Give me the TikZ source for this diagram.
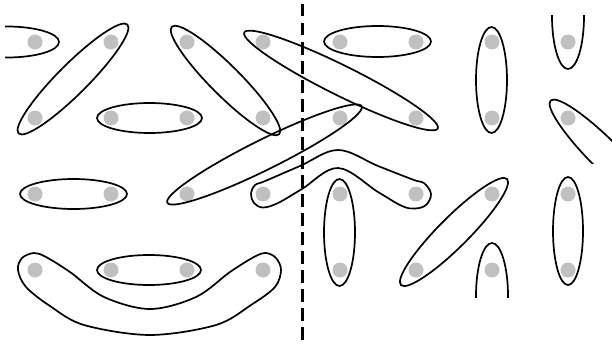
\documentclass[tikz,border=0pt]{standalone}
\definecolor{dotgray}{RGB}{192,192,192}
\begin{document}
\begin{tikzpicture}[x=1pt,y=-1pt,
  dot/.style={circle,fill=dotgray,minimum size=15pt,inner sep=0pt},
  loop/.style={draw=black,line width=1.7pt},
  divider/.style={draw=black,line width=3pt,dash pattern=on 12.5pt off 6.5pt}]
\useasboundingbox (0,0) rectangle (612,345);
% dots
\foreach \c [count=\i] in {35,111,187,263,340,416,492,568}
  \foreach \r [count=\j] in {42,118,194,270}
    \node[dot] (d\i\j) at (\c,\r) {};
% clipped ellipses
\begin{scope}
  \clip (5,0) rectangle (100,100);
  \draw[loop] (7,42) ellipse [x radius=52pt, y radius=15.5pt];
\end{scope}
\begin{scope}
  \clip (530,16) rectangle (612,100);
  \draw[loop] (568,16) ellipse [x radius=16pt, y radius=53pt];
\end{scope}
\begin{scope}
  \clip (450,200) rectangle (540,297);
  \draw[loop] (492,296) ellipse [x radius=16pt, y radius=53pt];
\end{scope}
\begin{scope}
  \clip (530,80) rectangle (612,163);
  \draw[loop, rotate around={-45:(605,155)}] (605,155) ellipse [x radius=77pt, y radius=15pt];
\end{scope}
% diagonal ellipses
\draw[loop, rotate around={45:(73,79)}] (73,79) ellipse [x radius=77pt, y radius=15pt];
\draw[loop, rotate around={-45:(225.5,80.5)}] (225.5,80.5) ellipse [x radius=76pt, y radius=15pt];
\draw[loop, rotate around={45:(454,232)}] (454,232) ellipse [x radius=75pt, y radius=15pt];
\draw[loop, rotate around={-26.4:(341,80.5)}] (341,80.5) ellipse [x radius=108pt, y radius=15pt];
\draw[loop, rotate around={26.4:(264.5,154.5)}] (264.5,154.5) ellipse [x radius=108.5pt, y radius=15pt];
% horizontal ellipses
\draw[loop] (149.5,118) ellipse [x radius=52.5pt, y radius=15pt];
\draw[loop] (73.5,194) ellipse [x radius=53.5pt, y radius=15pt];
\draw[loop] (149,270) ellipse [x radius=52pt, y radius=15pt];
\draw[loop] (377.5,41.5) ellipse [x radius=53.5pt, y radius=15.5pt];
% vertical ellipses
\draw[loop] (491.5,80) ellipse [x radius=15.5pt, y radius=53pt];
\draw[loop] (339.5,232.5) ellipse [x radius=15.5pt, y radius=53.5pt];
\draw[loop] (568,231) ellipse [x radius=15pt, y radius=54pt];
% bent tube
\draw[loop] plot[smooth cycle, tension=0.6] coordinates {
  (251,194) (255,185) (264,181.5) (300,166) (338,150) (378,166) (414,180)
  (424,183) (431,194) (426,205) (415,208.5) (402,206) (378,192) (338,168)
  (302,189) (278,203) (263,207.5) (254,203)};
% smile tube
\draw[loop] plot[smooth cycle, tension=0.55] coordinates {
  (22,258) (18,270) (26,287) (50,306) (84,325) (150,335) (216,325) (251,305)
  (275,287) (281,270) (276,258) (266,253) (254,257) (230,272) (196,297)
  (150,309) (104,297) (70,272) (46,257) (34,253)};
% divider
\draw[divider] (302,4) -- (302,345);
\end{tikzpicture}
\end{document}
